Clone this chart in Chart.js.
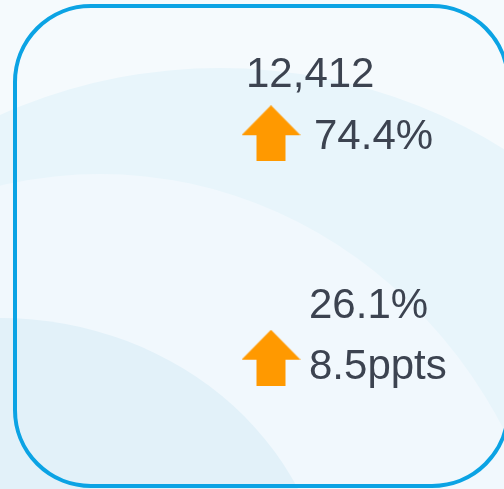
<!DOCTYPE html>
<html>
<head>
<meta charset="utf-8">
<script src="https://cdn.jsdelivr.net/npm/chart.js@4"></script>
<style>
  html, body { margin:0; padding:0; width:504px; height:489px; overflow:hidden; }
  body { position:relative; background:#f5fafd; font-family:"Liberation Sans", Arial, sans-serif; }
  .blob { position:absolute; border-radius:50%; }
  #band  { left:-300px; top:68px;  width:1040px; height:1000px; background:#e8f5fb; }
  #swoop { left:-363px; top:174px; width:926px;  height:1000px; background:#f1f8fd; }
  #low   { left:-330px; top:318px; width:660px;  height:600px;  background:#e2f1f9; }
  #card { position:absolute; left:13px; top:4px; width:489px; height:476px;
          border:4px solid #0ba3e4; border-radius:78px; }
  #arrows { position:absolute; left:171px; top:16px; }
  .kpi { position:absolute; font-size:42px; line-height:1; color:#3c4350; white-space:nowrap; }
</style>
</head>
<body>
<div class="blob" id="band"></div>
<div class="blob" id="swoop"></div>
<div class="blob" id="low"></div>
<div id="card"></div>
<canvas id="arrows" width="200" height="459"></canvas>
<div class="kpi" id="v0" style="left:246px; top:52px;"></div>
<div class="kpi" id="c0" style="left:314px; top:114px;"></div>
<div class="kpi" id="v1" style="left:309px; top:283px;"></div>
<div class="kpi" id="c1" style="left:309px; top:344px;"></div>

<script>
// KPI rows
const rows = ['Volume', 'Share'];
const values = ['12,412', '26.1%'];
const changes = [74.4, 8.5];
const changeUnits = ['%', 'ppts'];

// text
rows.forEach((r, i) => {
  document.getElementById('v' + i).textContent = values[i];
  document.getElementById('c' + i).textContent = changes[i].toFixed(1) + changeUnits[i];
});

// block arrow used as point style
function makeArrow(color){
  const c = document.createElement('canvas');
  c.width = 59; c.height = 56;
  const g = c.getContext('2d');
  g.fillStyle = color;
  g.beginPath();
  g.moveTo(29.5, 0);
  g.lineTo(59, 30);
  g.lineTo(44, 30);
  g.lineTo(44, 56);
  g.lineTo(15, 56);
  g.lineTo(15, 30);
  g.lineTo(0, 30);
  g.closePath();
  g.fill();
  return c;
}
const arrowImg = makeArrow('#ff9900');

new Chart(document.getElementById('arrows'), {
  type: 'scatter',
  data: {
    datasets: [{
      data: rows.map(r => ({ x: 'change', y: r })),
      pointStyle: arrowImg,
      rotation: changes.map(c => c >= 0 ? 0 : 180),
    }]
  },
  options: {
    responsive: false,
    animation: false,
    devicePixelRatio: 1,
    events: [],
    layout: { padding: 0 },
    plugins: { legend: { display: false }, tooltip: { enabled: false } },
    scales: {
      x: { type: 'category', labels: ['change'], offset: true, display: false },
      y: { type: 'category', labels: rows, offset: true, display: false }
    }
  }
});
</script>
</body>
</html>
